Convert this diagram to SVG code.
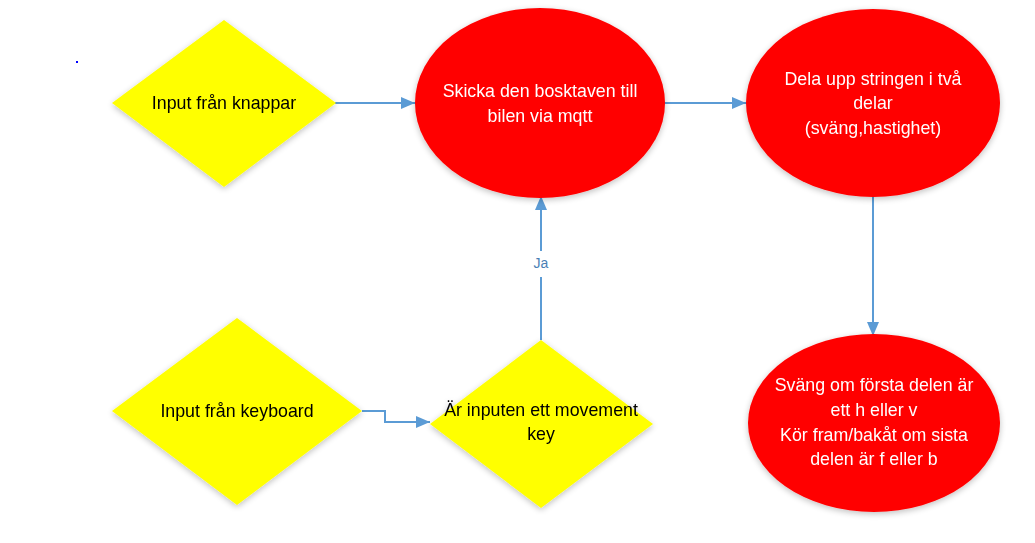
<svg xmlns="http://www.w3.org/2000/svg" width="1035" height="543" viewBox="0 0 1035 543">
<style>
.dia{fill:#ffff00;}
.ell{fill:#ff0000;}
.t{font-family:"Liberation Sans",Arial,sans-serif;font-size:17.8px;text-anchor:middle;dominant-baseline:middle;}
.tb{fill:#000;}
.tw{fill:#fff;}
.c{stroke:#5b9bd5;stroke-width:2;fill:none;}
</style>
<defs>
<marker id="ah" markerWidth="14" markerHeight="14" refX="14" refY="7" orient="auto" markerUnits="userSpaceOnUse" viewBox="0 0 14 14">
<path d="M0,1 L14,7 L0,13 z" fill="#5b9bd5"/>
</marker>
<filter id="sh" x="-10%" y="-10%" width="120%" height="125%">
<feGaussianBlur in="SourceAlpha" stdDeviation="3"/>
<feOffset dx="0" dy="2"/>
<feComponentTransfer><feFuncA type="linear" slope="0.25"/></feComponentTransfer>
<feMerge><feMergeNode/><feMergeNode in="SourceGraphic"/></feMerge>
</filter>
</defs>
<rect width="1035" height="543" fill="#fff"/>
<rect x="76" y="61" width="2" height="2" fill="#0000ff"/>
<g id="connectors">
<line class="c" x1="335" y1="103" x2="415" y2="103" marker-end="url(#ah)"/>
<line class="c" x1="665" y1="103" x2="746" y2="103" marker-end="url(#ah)"/>
<line class="c" x1="873" y1="189" x2="873" y2="336" marker-end="url(#ah)"/>
<polyline class="c" points="362,411 385,411 385,422 430,422" marker-end="url(#ah)"/>
<line class="c" x1="541" y1="340" x2="541" y2="277"/>
<line class="c" x1="541" y1="251" x2="541" y2="196" marker-end="url(#ah)"/>
<text x="541" y="264" style="font-family:'Liberation Sans',Arial,sans-serif;font-size:14px;text-anchor:middle;dominant-baseline:middle;fill:#4a7fb5;">Ja</text>
</g>
<g id="n_knappar" filter="url(#sh)">
<polygon class="dia" points="224,20 336,103 224,187 112,103"/>
<text class="t tb" x="224" y="104">Input från knappar</text>
</g>
<g id="n_skicka" filter="url(#sh)">
<ellipse class="ell" cx="540" cy="103" rx="125" ry="95"/>
<text class="t tw" x="540" y="92">Skicka den bosktaven till</text>
<text class="t tw" x="540" y="117">bilen via mqtt</text>
</g>
<g id="n_dela" filter="url(#sh)">
<ellipse class="ell" cx="873" cy="103" rx="127" ry="94"/>
<text class="t tw" x="873" y="80">Dela upp stringen i två</text>
<text class="t tw" x="873" y="104">delar</text>
<text class="t tw" x="873" y="129">(sväng,hastighet)</text>
</g>
<g id="n_svang" filter="url(#sh)">
<ellipse class="ell" cx="874" cy="423" rx="126" ry="89"/>
<text class="t tw" x="874" y="386">Sväng om första delen är</text>
<text class="t tw" x="874" y="411">ett h eller v</text>
<text class="t tw" x="874" y="436">Kör fram/bakåt om sista</text>
<text class="t tw" x="874" y="460">delen är f eller b</text>
</g>
<g id="n_keyboard" filter="url(#sh)">
<polygon class="dia" points="237,318 362,411 237,505 112,411"/>
<text class="t tb" x="237" y="412">Input från keyboard</text>
</g>
<g id="n_movement" filter="url(#sh)">
<polygon class="dia" points="541,340 653,424 541,508 430,424"/>
<text class="t tb" x="541" y="411">Är inputen ett movement</text>
<text class="t tb" x="541" y="435">key</text>
</g>
</svg>
